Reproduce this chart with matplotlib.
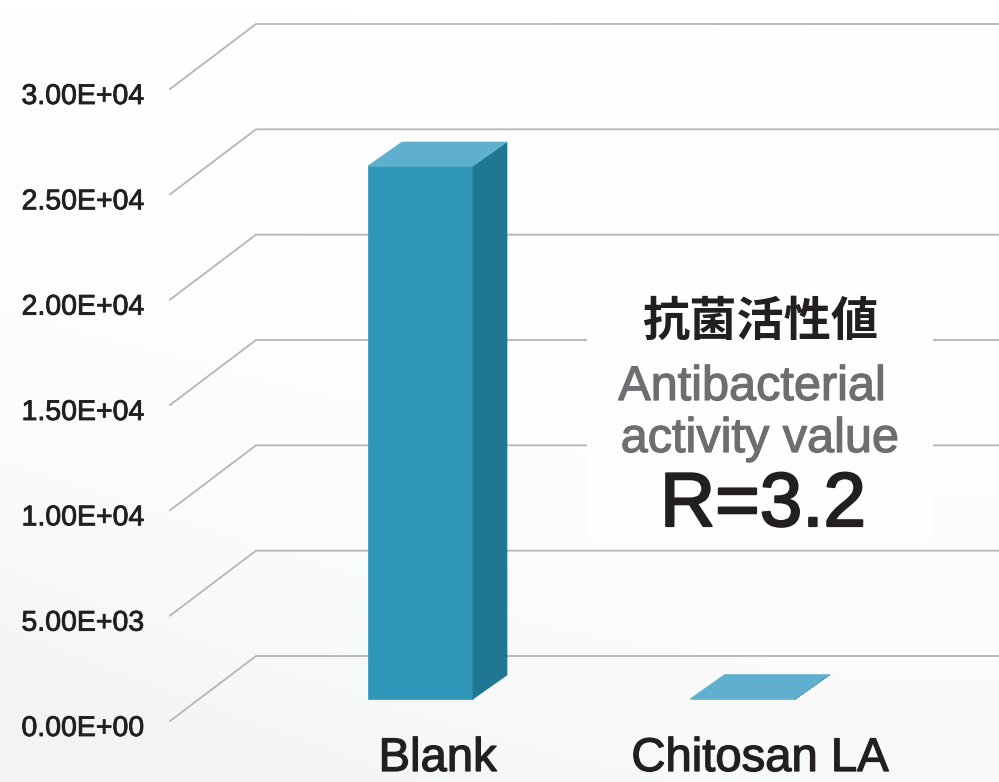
import numpy as np
import matplotlib
matplotlib.use("Agg")
import matplotlib.pyplot as plt
import matplotlib.patheffects as pe
from matplotlib.patches import Polygon, Rectangle
from matplotlib.lines import Line2D
from matplotlib.transforms import ScaledTranslation, IdentityTransform
from matplotlib.colors import LinearSegmentedColormap

# ---------------- data ----------------
categories = ["Blank", "Chitosan LA"]
values = [25300, 16]
y_ticks = [0, 5000, 10000, 15000, 20000, 25000, 30000]
y_tick_labels = ["0.00E+00", "5.00E+03", "1.00E+04", "1.50E+04",
                 "2.00E+04", "2.50E+04", "3.00E+04"]
title_cjk = "抗菌活性値"
title_en = ["Antibacterial", "activity value"]
r_text = "R=3.2"

# ---------------- style ----------------
W, H, DPI = 999, 782, 100
FRONT_C = "#2f97b9"
SIDE_C = "#1f7792"
TOP_C = "#5fb0cf"
GRID_C = "#b6b6b6"
TEXT_C = "#231f20"
GRAY_C = "#6d6e71"
BACK_OFF = (86, 65)       # depth of the floor/wall (px)
BAR_FRONT = (29, 22)      # bar front plane offset (px)
BAR_BACK = (63, 46)       # bar back plane offset (px)
BAR_W = 0.3256


def thick(color, w=0.7):
    return [pe.withStroke(linewidth=w, foreground=color)]


fig = plt.figure(figsize=(W / DPI, H / DPI), dpi=DPI)

# background gradient (very light, greyer towards the bottom-left)
bg = fig.add_axes([0, 0, 1, 1], zorder=-10)
cmap = LinearSegmentedColormap.from_list("bg", ["#ffffff", "#fcfcfc", "#f2f4f4"])
gy = np.linspace(0, 1, 256)[:, None]
gx = np.linspace(0, 1, 256)[None, :]
grad = np.clip(gy ** 1.6 * 0.7 + (1 - gx) ** 2 * 0.45 * gy, 0, 1)
bg.imshow(grad, cmap=cmap, aspect="auto", extent=[0, 1, 0, 1], origin="upper")
bg.set_axis_off()

ax = fig.add_axes([170 / W, 61 / H, 829 / W, 632 / H])
ax.set_xlim(-0.6868, 1.8837)
ax.set_ylim(0, 30000)
ax.patch.set_alpha(0)
for s in ax.spines.values():
    s.set_visible(False)
ax.set_xticks([])


def px(x, v, off=(0, 0)):
    X, Y = ax.transData.transform((x, v))
    return (X + off[0], Y + off[1])


# grid lines (front diagonal + back wall horizontal)
x0, x1 = ax.get_xlim()
for v in y_ticks:
    p0 = px(x0, v)
    p1 = px(x0, v, BACK_OFF)
    p2 = px(x1, v, BACK_OFF)
    ln = Line2D([p0[0], p1[0], p2[0] + 50], [p0[1], p1[1], p2[1]],
                transform=IdentityTransform(), color=GRID_C, lw=1.3,
                clip_on=False, zorder=1, solid_joinstyle="miter")
    ax.add_artist(ln)

# white panel behind annotation
ax.add_artist(Rectangle((587, H - 540), 346, 290, transform=IdentityTransform(),
                        facecolor="#fefefe", edgecolor="none", zorder=2, clip_on=False))

# bars
for i, v in enumerate(values):
    xl, xr = i - BAR_W / 2, i + BAR_W / 2
    front = [px(xl, 0, BAR_FRONT), px(xr, 0, BAR_FRONT), px(xr, v, BAR_FRONT), px(xl, v, BAR_FRONT)]
    top = [px(xl, v, BAR_FRONT), px(xr, v, BAR_FRONT), px(xr, v, BAR_BACK), px(xl, v, BAR_BACK)]
    side = [px(xr, 0, BAR_FRONT), px(xr, 0, BAR_BACK), px(xr, v, BAR_BACK), px(xr, v, BAR_FRONT)]
    for verts, c in ((front, FRONT_C), (side, SIDE_C), (top, TOP_C)):
        ax.add_artist(Polygon(verts, closed=True, transform=IdentityTransform(),
                              facecolor=c, edgecolor=c, lw=0.5, zorder=3, clip_on=False))
    # category label
    mid = ((BAR_FRONT[0] + BAR_BACK[0]) / 2 / DPI, -50 / DPI)
    ax.text(i, 0, categories[i], fontsize=34, family="Liberation Sans", color=TEXT_C,
            ha="center", va="baseline", clip_on=False, path_effects=thick(TEXT_C, 0.9),
            transform=ax.transData + ScaledTranslation(mid[0], mid[1], fig.dpi_scale_trans))

# y ticks
ax.set_yticks(y_ticks)
ax.set_yticklabels(y_tick_labels, fontsize=20.5, family="Liberation Sans", color=TEXT_C)
ax.tick_params(axis="y", length=0, pad=18.4)
for lbl in ax.get_yticklabels():
    lbl.set_transform(lbl.get_transform() + ScaledTranslation(0, -5 / DPI, fig.dpi_scale_trans))
    lbl.set_path_effects(thick(TEXT_C, 0.6))

# annotation
fig.text(760 / W, 1 - 322 / H, title_cjk, fontsize=34, weight="bold",
         family=["Noto Sans CJK JP", "DejaVu Sans"], color=TEXT_C, ha="center", va="center")
fig.text(752 / W, 1 - 400 / H, title_en[0], fontsize=35, family="Liberation Sans",
         color=GRAY_C, ha="center", va="baseline", path_effects=thick(GRAY_C, 0.9))
fig.text(760 / W, 1 - 452 / H, title_en[1], fontsize=35, family="Liberation Sans",
         color=GRAY_C, ha="center", va="baseline", path_effects=thick(GRAY_C, 0.9))
fig.text(763 / W, 1 - 526 / H, r_text, fontsize=55, family="Liberation Sans",
         color=TEXT_C, ha="center", va="baseline", path_effects=thick(TEXT_C, 1.6))

fig.savefig("out.png", dpi=DPI)
